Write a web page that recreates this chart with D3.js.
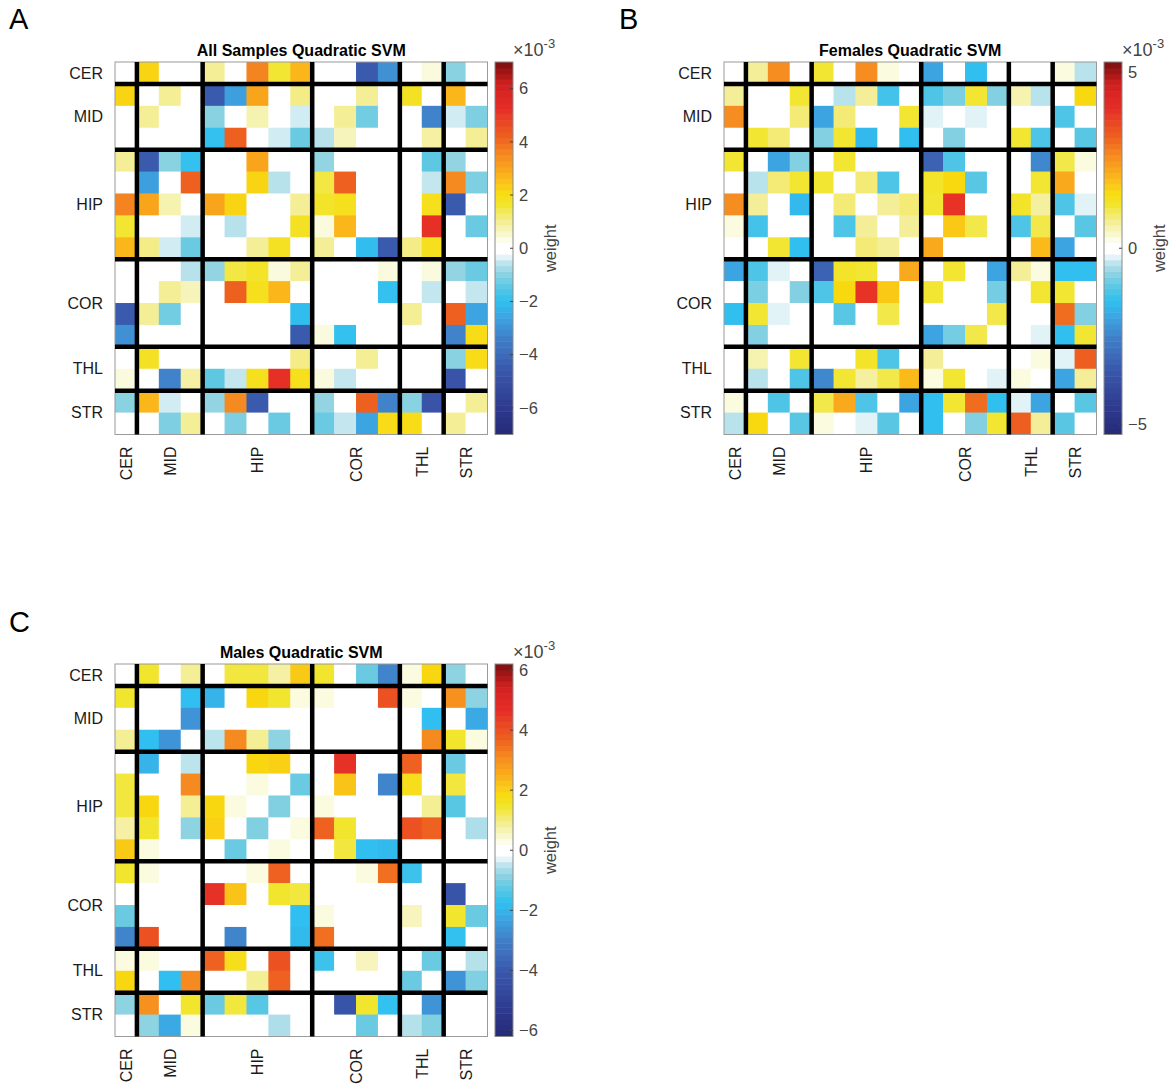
<!DOCTYPE html>
<html>
<head>
<meta charset="utf-8">
<script src="https://cdn.jsdelivr.net/npm/d3@7"></script>
<style>
	body { margin: 0; background: #fff; }
	text { font-family: 'Liberation Sans', Arial, sans-serif; }
</style>
</head>
<body>
<svg id="fig" width="1171" height="1086"></svg>
<script>
// regions, and how many rows each one takes in the matrix
const groups = ['CER', 'MID', 'HIP', 'COR', 'THL', 'STR'];
const groupSizes = [1, 3, 5, 4, 2, 2];

// upper triangles (x10^-3), row i holds columns i+1..16, matrices are symmetric
const upperAll = [
	[2.2, 0, 0, 1.0, 0, 3.6, 1.6, 2.7, 0, 0, -4.5, -3.0, 0, 0.4, -1.0, 0],
	[1.0, 0, -4.5, -2.7, 3.0, 0, 1.1, 0, 0, 1.0, 0, 1.8, 0, 2.7, 0],
	[0, -1.0, 0, 0.8, 0, -0.4, 0, 1.0, -1.2, 0, 0, -3.3, -0.4, -1.1],
	[-1.9, 4.2, 0, -0.4, -1.3, -0.6, 0.7, 0, 0, 0, 0.9, 0, 1.0],
	[0, 3.0, 0, 0, -0.9, 0, 0, 0, 0, -1.4, -0.9, 0],
	[2.2, -0.6, 0, 1.5, 4.2, 0, 0, 0, -0.5, 3.5, -1.1],
	[0, 1.0, 1.7, 1.9, 0, 0, 0, 1.9, -4.5, 0],
	[1.8, 0.4, 2.7, 0, 0, 0, 5.2, 0, -1.3],
	[1.0, 0, -2.0, -4.5, 1.1, 1.9, 0, 0],
	[0, 0, 0.4, 0, 0.4, -0.9, -1.3],
	[0, -1.9, 0, -0.5, 0, -0.5],
	[0, 1.0, 0, 4.2, -2.6],
	[0, 0, -3.3, 2.0],
	[0, -1.0, 2.0],
	[-4.8, 0],
	[1.0]
];

const upperFemale = [
	[0.75, 2.6, 0, 1.2, 0, 2.6, 0.3, 0, -1.95, 0, -1.5, 0, 0, 0, 0.3, -0.45],
	[0, 1.2, 0, -0.45, 0.75, -1.3, 0, -1.2, -0.85, 1.2, -0.8, 0.6, -0.45, 0, 1.6],
	[0.9, -1.95, 0.9, 0, 0, 1.2, -0.25, 0, -0.25, 0, 0, 0, -1.2, 0],
	[-0.8, 1.2, -1.6, 0, -1.5, 0, -0.8, 0, 0, 1.2, -1.2, 0, -1.1],
	[1.2, 0, 0, 0, -3.2, -1.2, 0, 0, 0, -2.4, 1.1, 0.3],
	[0.9, -1.2, 0, 1.3, 1.6, -1.1, 0, 0, 1.2, 2.2, 0],
	[0.75, 0.9, 1.2, 3.9, 0, 0, 1.3, 0.7, -1.2, -0.25],
	[0.75, 0, 1.8, 1.1, 0, -1.2, 1.1, 0, -1.1],
	[2.2, 0, 0, 0, 0, 2.0, -1.95, 0],
	[1.2, 0, -1.95, 0.75, 0.3, -1.5, -1.5],
	[0, -0.9, 0, 1.2, 1.2, 0],
	[1.1, 0, 0, 3.0, -0.8],
	[0, -0.25, -1.5, 1.2],
	[0.3, -0.25, 3.2],
	[-1.95, 0.75],
	[-1.1]
];

const upperMale = [
	[1.45, 0, 0.9, 0, 1.35, 1.35, 0.8, 2.1, 1.45, 0, -1.15, -2.9, 0.35, 1.9, -0.85, 0],
	[0, -1.75, -2.0, 0, 1.9, 1.45, 0.35, 0.35, 0, 0, 4.0, 0.35, 0, 3.0, -0.85],
	[-2.6, 0, 0, 0, 0, 0, 0, 0, 0, 0, 0, -1.75, 0, -2.2],
	[-0.5, 3.1, 0.9, -0.85, 0, 0, 0, 0, 0, 0, 3.1, 1.45, 0.35],
	[0, 1.9, 2.0, 0, 0, 4.6, 0, 0, 3.7, 0, -1.15, 0],
	[0.35, 0, -1.15, 0, 2.2, 0, -2.9, 1.7, 0, 1.35, 0],
	[-0.95, 0, 0.35, 0, 0, 0, 0, 0.9, -1.3, 0],
	[0.35, 3.7, 1.45, 0, 0, 4.0, 3.7, 0, -0.6],
	[0, 1.35, -1.75, -1.85, 0, 0, 0, 0],
	[0, 0.35, 3.5, -1.6, 0, 0, 0],
	[0, 0, 0, 0, -4.2, 0],
	[0, 0.6, 0, 1.45, -1.15],
	[0, 0, -1.7, 0],
	[-1.15, 0, -0.55],
	[-2.6, -0.95],
	[0]
];

const titles = ['All Samples Quadratic SVM', 'Females Quadratic SVM', 'Males Quadratic SVM'];
const climits = [7.0, 5.28, 6.2];
const ticksAll = [-6, -4, -2, 0, 2, 4, 6];
const ticksFemale = [-5, 0, 5];
const ticksMale = [-6, -4, -2, 0, 2, 4, 6];

// colormap stops as a fraction of the colour limit
const cmapT = [-1, -0.85, -0.65, -0.48, -0.37, -0.28, -0.2, -0.13, -0.06, -0.03, 0.03, 0.06, 0.14, 0.23, 0.3, 0.38, 0.5, 0.6, 0.75, 0.88, 1];
const cmapC = ['#262a78', '#2e3b8e', '#3a58ac', '#4080c8', '#3da4e2', '#30c0f0', '#5ec8e2', '#92d4e2', '#cdeaf2', '#ffffff', '#ffffff', '#fafadc', '#f4ee9a', '#f2e630', '#f8da10', '#fbb81a', '#f58a20', '#ee6020', '#e62e26', '#d02020', '#7a1010'];

const size = 372.5;
const n = 17;
const svg = d3.select('#fig');

function fullMatrix(upper) {
	const m = d3.range(n).map(() => new Array(n).fill(0));
	upper.forEach((row, i) => {
		row.forEach((v, k) => {
			const j = i + 1 + k;
			m[i][j] = v;
			m[j][i] = v;
		});
	});
	return m;
}

function drawPanel(p) {
	const g = svg.append('g').attr('transform', `translate(${p.x},${p.y})`);
	const band = d3.scaleBand().domain(d3.range(n)).range([0, size]);
	const color = d3.scaleLinear().domain(cmapT.map(t => t * p.clim)).range(cmapC).clamp(true);
	const matrix = fullMatrix(p.upper);

	const cells = [];
	matrix.forEach((row, i) => row.forEach((v, j) => cells.push({ i, j, v })));

	g.selectAll('.cell')
		.data(cells)
		.enter()
		.append('rect')
		.attr('x', d => band(d.j))
		.attr('y', d => band(d.i))
		.attr('width', band.bandwidth() + 0.5)
		.attr('height', band.bandwidth() + 0.5)
		.attr('fill', d => color(d.v));

	g.append('rect')
		.attr('width', size)
		.attr('height', size)
		.attr('fill', 'none')
		.attr('stroke', '#9a9a9a')
		.attr('stroke-width', 1);

	// thick separators between regions
	const starts = [];
	groupSizes.reduce((acc, s) => { starts.push(acc); return acc + s; }, 0);
	starts.slice(1).forEach(s => {
		g.append('line').attr('x1', band(s)).attr('x2', band(s)).attr('y1', 0).attr('y2', size)
			.attr('stroke', '#000').attr('stroke-width', 4.5);
		g.append('line').attr('y1', band(s)).attr('y2', band(s)).attr('x1', 0).attr('x2', size)
			.attr('stroke', '#000').attr('stroke-width', 4.5);
	});

	groups.forEach((name, k) => {
		const c = band(starts[k]) + (groupSizes[k] * band.bandwidth()) / 2;
		g.append('text')
			.attr('x', -12)
			.attr('y', c)
			.attr('dy', '0.35em')
			.attr('text-anchor', 'end')
			.style('font-size', '16px')
			.attr('fill', '#1a1a1a')
			.text(name);
		g.append('text')
			.attr('transform', `translate(${c + 6},${size + 12}) rotate(-90)`)
			.attr('text-anchor', 'end')
			.style('font-size', '16px')
			.attr('fill', '#1a1a1a')
			.text(name);
	});

	g.append('text')
		.attr('x', size / 2)
		.attr('y', -6)
		.attr('text-anchor', 'middle')
		.style('font-size', '16px')
		.style('font-weight', 'bold')
		.text(p.title);

	// colorbar
	const cb = g.append('g').attr('transform', `translate(${size + 7.5},0)`);
	const cbW = 18;
	const cy = d3.scaleLinear().domain([-p.clim, p.clim]).range([size, 0]);
	const steps = 64;
	const stepVals = d3.range(steps).map(k => -p.clim + ((k + 0.5) * 2 * p.clim) / steps);
	cb.selectAll('.cb')
		.data(stepVals)
		.enter()
		.append('rect')
		.attr('x', 0)
		.attr('width', cbW)
		.attr('y', d => cy(d + p.clim / steps))
		.attr('height', size / steps + 0.5)
		.attr('fill', d => color(d));
	cb.append('rect').attr('width', cbW).attr('height', size).attr('fill', 'none').attr('stroke', '#8a8a8a');

	const axis = d3.axisRight(cy).tickValues(p.ticks).tickSize(0).tickPadding(6).tickFormat(d3.format('d'));
	const ax = cb.append('g').attr('transform', `translate(${cbW},0)`).call(axis);
	ax.select('.domain').remove();
	ax.selectAll('text').style('font-size', '16.5px').attr('fill', '#444').style('font-family', "'Liberation Sans', Arial, sans-serif");
	p.ticks.forEach(t => {
		cb.append('line').attr('x1', cbW - 3).attr('x2', cbW).attr('y1', cy(t)).attr('y2', cy(t)).attr('stroke', '#444');
	});

	const ex = cb.append('text').attr('x', cbW).attr('y', -6).attr('fill', '#444').style('font-size', '18px');
	ex.append('tspan').text('×10');
	ex.append('tspan').attr('dy', -8).style('font-size', '13px').text('-3');

	cb.append('text')
		.attr('transform', `translate(${cbW + 43},${size / 2}) rotate(-90)`)
		.attr('text-anchor', 'middle')
		.attr('fill', '#444')
		.style('font-size', '16.5px')
		.text('weight');

	svg.append('text')
		.attr('x', p.lx)
		.attr('y', p.ly)
		.style('font-size', '29px')
		.text(p.letter);
}

drawPanel({ letter: 'A', lx: 9, ly: 29, title: titles[0], x: 115, y: 62, upper: upperAll, clim: climits[0], ticks: ticksAll });
drawPanel({ letter: 'B', lx: 619, ly: 29, title: titles[1], x: 724, y: 62, upper: upperFemale, clim: climits[1], ticks: ticksFemale });
drawPanel({ letter: 'C', lx: 9, ly: 632, title: titles[2], x: 115, y: 664, upper: upperMale, clim: climits[2], ticks: ticksMale });
</script>
</body>
</html>
